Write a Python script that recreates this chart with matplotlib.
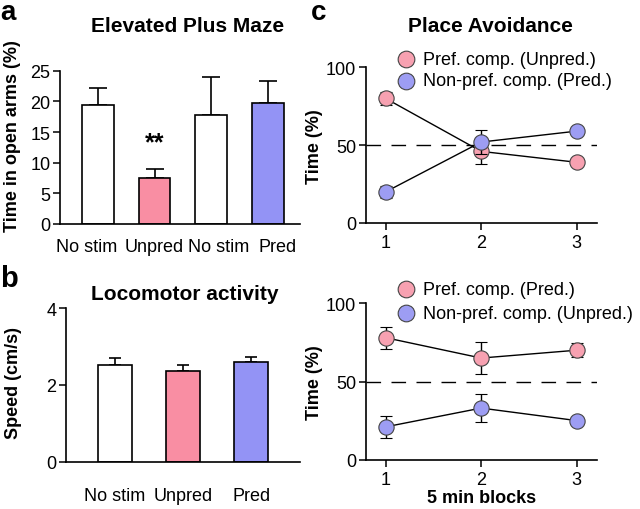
import numpy as np
import matplotlib.pyplot as plt

plt.rcParams['font.family'] = ['Liberation Sans', 'DejaVu Sans']

pink = '#f98ea3'
blue = '#9393f5'
mpink = '#f7a1b1'
mblue = '#9d9df3'

# panel a: elevated plus maze
epm_labels = ['No stim', 'Unpred', 'No stim', 'Pred']
epm_mean = [19.4, 7.5, 17.7, 19.8]
epm_sem = [2.7, 1.5, 6.2, 3.5]
epm_colors = ['white', pink, 'white', blue]

# panel b: locomotor activity
loco_labels = ['No stim', 'Unpred', 'Pred']
loco_mean = [2.53, 2.36, 2.59]
loco_sem = [0.17, 0.15, 0.13]
loco_colors = ['white', pink, blue]

# panel c: place avoidance
blocks = [1, 2, 3]
top_pref = [80, 46, 39]
top_pref_err = [4, 8, 2]
top_nonpref = [20, 52, 59]
top_nonpref_err = [4, 8, 2]
top_legend = ['Pref. comp. (Unpred.)', 'Non-pref. comp. (Pred.)']

bot_pref = [78, 65, 70]
bot_pref_err = [7, 10, 4.5]
bot_nonpref = [21, 33, 25]
bot_nonpref_err = [7, 9, 2]
bot_legend = ['Pref. comp. (Pred.)', 'Non-pref. comp. (Unpred.)']

W, H = 640, 510
FS = 13
fig = plt.figure(figsize=(6.4, 5.1), dpi=100)


def px_axes(l, r, b, t):
    return fig.add_axes([l / W, 1 - b / H, (r - l) / W, (b - t) / H])


def style(ax):
    for s in ['top', 'right']:
        ax.spines[s].set_visible(False)
    for s in ['left', 'bottom']:
        ax.spines[s].set_linewidth(1.2)
    ax.tick_params(axis='y', direction='out', length=5, width=1.1, labelsize=FS, pad=2)


# ---- a ----
ax1 = px_axes(60, 300, 225, 71.7)
style(ax1)
x = np.arange(len(epm_mean))
ax1.bar(x, epm_mean, width=0.56, color=epm_colors, edgecolor='black', linewidth=1.2, zorder=2)
ax1.errorbar(x, epm_mean, yerr=[np.zeros(len(x)), epm_sem], fmt='none', ecolor='black',
             elinewidth=1.2, capsize=6.5, capthick=1.2, zorder=1)
ax1.text(1, 13.3, '**', ha='center', va='center', fontsize=18, fontweight='bold')
ax1.set_xlim(-0.665, 3.56)
ax1.set_ylim(0, 25)
ax1.set_yticks([0, 5, 10, 15, 20, 25])
# labels sit a little off the bar centres so they do not run into each other
ax1.set_xticks(x + np.array([-0.2, 0.0, 0.13, 0.17]))
ax1.set_xticklabels(epm_labels)
ax1.tick_params(axis='x', length=0, labelsize=FS, pad=10)
ax1.set_ylabel('Time in open arms (%)', fontsize=FS, fontweight='bold')
ax1.yaxis.set_label_coords(-0.162, 0.58)

# ---- b ----
ax2 = px_axes(66, 300, 462.7, 309.3)
style(ax2)
x = np.arange(len(loco_mean))
ax2.bar(x, loco_mean, width=0.5, color=loco_colors, edgecolor='black', linewidth=1.2, zorder=2)
ax2.errorbar(x, loco_mean, yerr=[np.zeros(len(x)), loco_sem], fmt='none', ecolor='black',
             elinewidth=1.2, capsize=4.5, capthick=1.2, zorder=1)
ax2.set_xlim(-0.714, 2.717)
ax2.set_ylim(0, 4)
ax2.set_yticks([0, 2, 4])
ax2.set_xticks(x)
ax2.set_xticklabels(loco_labels)
ax2.tick_params(axis='x', length=0, labelsize=FS, pad=18)
ax2.set_ylabel('Speed (cm/s)', fontsize=FS, fontweight='bold')
ax2.yaxis.set_label_coords(-0.19, 0.52)


# ---- c ----
def place_panel(ax, pref, pref_err, nonpref, nonpref_err, labels, leg_y):
    style(ax)
    ax.axhline(50, color='black', lw=1, linestyle=(0, (10.5, 7.5)), zorder=1)
    ax.errorbar(blocks, pref, yerr=pref_err, color='black', lw=1, capsize=4.5, capthick=1,
                marker='o', ms=11, mfc=mpink, mec='#444444', mew=0.8, zorder=3)
    ax.errorbar(blocks, nonpref, yerr=nonpref_err, color='black', lw=1, capsize=4.5, capthick=1,
                marker='o', ms=11, mfc=mblue, mec='#444444', mew=0.8, zorder=4)
    ax.set_xlim(0.794, 3.21)
    ax.set_ylim(0, 100)
    ax.set_yticks([0, 50, 100])
    ax.set_xticks(blocks)
    ax.tick_params(axis='x', direction='out', length=5, width=1.1, labelsize=FS, pad=3)
    ax.set_ylabel('Time (%)', fontsize=FS, fontweight='bold')
    ax.yaxis.set_label_coords(-0.186, 0.5)
    for c, lab, yy in zip([mpink, mblue], labels, leg_y):
        ax.plot([0.175], [yy], 'o', ms=12, mfc=c, mec='#444444', mew=0.8,
                transform=ax.transAxes, clip_on=False)
        ax.text(0.247, yy, lab, transform=ax.transAxes, ha='left', va='center', fontsize=FS)


ax3 = px_axes(366, 596.7, 224, 68.3)
place_panel(ax3, top_pref, top_pref_err, top_nonpref, top_nonpref_err, top_legend, [1.053, 0.914])

ax4 = px_axes(366, 596.7, 460.7, 304.3)
place_panel(ax4, bot_pref, bot_pref_err, bot_nonpref, bot_nonpref_err, bot_legend, [1.091, 0.936])
ax4.set_xlabel('5 min blocks', fontsize=FS, fontweight='bold', labelpad=1)

# titles and panel letters
fig.text(188 / W, 1 - 31.7 / H, 'Elevated Plus Maze', ha='center', va='baseline', fontsize=15, fontweight='bold')
fig.text(185 / W, 1 - 300 / H, 'Locomotor activity', ha='center', va='baseline', fontsize=15, fontweight='bold')
fig.text(490 / W, 1 - 32 / H, 'Place Avoidance', ha='center', va='baseline', fontsize=15, fontweight='bold')
fig.text(0 / W, 1 - 20.5 / H, 'a', ha='left', va='baseline', fontsize=20, fontweight='bold')
fig.text(0 / W, 1 - 286.7 / H, 'b', ha='left', va='baseline', fontsize=21, fontweight='bold')
fig.text(311 / W, 1 - 20.5 / H, 'c', ha='left', va='baseline', fontsize=20, fontweight='bold')

fig.savefig('out.png', dpi=100)
